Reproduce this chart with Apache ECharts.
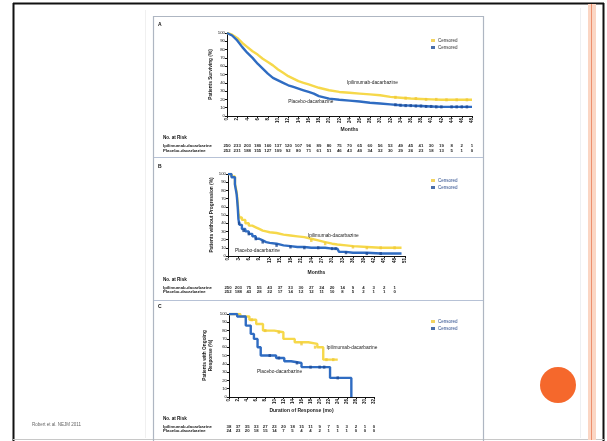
<!DOCTYPE html>
<html>
<head>
<meta charset="utf-8">
<script src="https://cdn.jsdelivr.net/npm/echarts@6/dist/echarts.min.js"></script>
<style>
  html, body { margin: 0; padding: 0; background: #ffffff; }
  #chart { width: 607px; height: 441px; }
</style>
</head>
<body>
<div id="chart"></div>
<script>
// Panel A: overall survival (%)
const osMonths   = [0,1,2,3,4,5,6,7,8,9,10,11,12,13,14,15,16,17,18,20,22,24,26,28,30,32,34,36,38,40,42,44,46,48];
const osIpi      = [100,98,94,88,83,78,74,69,65,61,56,52,48,45,42,40,38,36,34,31,29,28,27,26,25,23,22,21,20.5,20,19.5,19.5,19.5,19.5];
const osPbo      = [100,97,91,83,76,70,63,57,51,46,43,40,37,35,33,31,29,27,24,21,19.5,18.5,17.5,16,15,14,13,12.5,12,11.5,11,11,11,11];
const osIpiCens  = [[33,22.5],[35,21.5],[37,21],[39,20],[41,20],[43,19.5],[45,19.5],[47,19.5]];
const osPboCens  = [[33,13.5],[34,13],[35,12.5],[36,12.5],[37,12],[38,12],[39,11.5],[40,11.5],[41,11],[42,11],[44,11],[45,11],[46,11],[47,11]];
const osTicks    = [0,2,4,6,8,10,12,14,16,18,20,22,24,26,28,30,32,34,36,38,40,42,44,46,48];
const osRiskIpi  = [250,233,203,180,160,137,120,107,96,89,80,75,70,65,60,56,53,49,45,41,30,19,8,2,1];
const osRiskPbo  = [252,231,188,155,127,109,92,80,71,61,51,46,43,40,34,32,30,29,26,23,18,13,5,1,0];

// Panel B: progression-free survival (%)
const pfsMonths  = [0,1,2,2.5,2.8,3,3.3,4,5,6,7,8,9,10,11,12,14,16,18,20,22,24,26,28,30,31.5,32,34,36,40,44,48,50];
const pfsIpi     = [100,97,88,78,65,52,47,44,40,37,35,33,31,30,29,28,26,25,24,23,21,19,17,15,14,13,13,12,11,10,10,10,10];
const pfsPbo     = [100,96,87,75,60,45,38,33,30,27,24,21,19,17,16,15,13,12,11,11,10,10,10,9,9,9,5,4,4,3,3,3,3];
const pfsIpiCens = [[24,19],[28,15],[36,11],[40,10],[44,10],[48,10]];
const pfsPboCens = [[3.2,40],[4.5,31],[6,27],[8,21],[10,17],[14,13],[18,11],[22,10],[26,10],[30,9],[31,9],[34,4],[40,3],[44,3]];
const pfsTicks   = [0,3,6,9,12,15,18,21,24,27,30,33,36,39,42,45,48,51];
const pfsRiskIpi = [250,203,75,55,43,37,33,30,27,24,20,14,9,4,3,2,1,''];
const pfsRiskPbo = [252,188,43,28,22,17,14,12,12,11,10,8,5,2,1,1,0,''];

// Panel C: duration of response (%)
const dorIpiMonths = [0,2.5,4.5,6,7.5,10,12,14.5,17.5,19.5,20.8,24];
const dorIpi       = [100,97,93,88,80,78,70,66,64,60,45,45];
const dorPboMonths = [0,1.8,3.7,4.8,5.5,6.3,7,10.4,12.2,13.7,16,22.3,27];
const dorPbo       = [100,97,86,76,70,60,50,47,43,41,36,23,0];
const dorIpiCens   = [[5,93],[8,80],[11,78],[16,64],[19,60],[21.5,45],[23,45]];
const dorPboCens   = [[9,50],[11,47],[15,41],[18,36],[20,36],[21,36],[24,23]];
const dorTicks     = [0,2,4,6,8,10,12,14,16,18,20,22,24,26,28,30,32];
const dorRiskIpi   = [38,37,35,33,27,23,20,18,15,11,9,7,5,3,2,1,0];
const dorRiskPbo   = [24,23,20,18,15,14,7,5,4,4,2,1,1,1,0,0,0];

const armIpi = 'Ipilimumab-dacarbazine';
const armPbo = 'Placebo-dacarbazine';

const YELLOW = '#f6d84a';
const BLUE = '#2f6cc2';
const BLUE_DARK = '#1d4a94';
const FONT = 'Liberation Sans, Arial, sans-serif';

function pairs(xs, ys) { return xs.map((x, i) => [x, ys[i]]); }

const grids = [
  { left: 227, top: 33, width: 245, height: 83 },
  { left: 228, top: 174, width: 177, height: 82 },
  { left: 229, top: 314, width: 145, height: 83 }
];

function mainX(grid, max, step, name, gap) {
  return {
    type: 'value', gridIndex: grid, min: 0, max: max, interval: step,
    name: name, nameLocation: 'middle', nameGap: gap,
    nameTextStyle: { fontSize: 5, fontWeight: 'bold', color: '#222', fontFamily: FONT },
    axisLine: { lineStyle: { color: '#111', width: 1 } },
    axisTick: { show: true, length: 2, lineStyle: { color: '#111' } },
    axisLabel: { fontSize: 4.5, rotate: 90, margin: 2, color: '#111', fontWeight: 'bold', fontFamily: FONT },
    splitLine: { show: false }
  };
}
function riskX(grid, max, step, ticks, values, offset) {
  return {
    type: 'value', gridIndex: grid, min: 0, max: max, interval: step,
    position: 'bottom', offset: offset,
    axisLine: { show: false }, axisTick: { show: false }, splitLine: { show: false },
    axisLabel: {
      fontSize: 4.3, margin: 0, color: '#222', fontFamily: FONT, fontWeight: 'bold',
      hideOverlap: false, showMinLabel: true, showMaxLabel: true,
      formatter: v => { const i = ticks.indexOf(v); return i >= 0 ? String(values[i]) : ''; }
    }
  };
}
function mainY(grid, name, gap) {
  return {
    type: 'value', gridIndex: grid, min: 0, max: 100, interval: 10,
    name: name, nameLocation: 'middle', nameGap: gap, nameRotate: 90,
    nameTextStyle: { fontSize: 4.8, fontWeight: 'bold', color: '#222', fontFamily: FONT, lineHeight: 6 },
    axisLine: { show: true, lineStyle: { color: '#111', width: 1 } },
    axisTick: { show: true, length: 2, lineStyle: { color: '#111' } },
    axisLabel: { fontSize: 4.3, margin: 2, color: '#111', fontFamily: FONT },
    splitLine: { show: false }
  };
}

function curve(name, xi, yi, data, color, step, label) {
  const s = {
    name: name, type: 'line', xAxisIndex: xi, yAxisIndex: yi, data: data,
    step: step ? 'end' : false, showSymbol: false, symbol: 'none',
    lineStyle: { color: color, width: 2.4 }, z: color === BLUE ? 3 : 2, silent: true
  };
  if (label) {
    s.markPoint = {
      symbol: 'circle', symbolSize: 0, silent: true,
      label: { show: true, position: 'right', distance: 0, formatter: '{b}', fontSize: 4.8, color: '#222', fontFamily: FONT },
      data: [{ name: name, coord: label }]
    };
  }
  return s;
}
function censors(name, xi, yi, data, color) {
  return {
    name: name, type: 'scatter', xAxisIndex: xi, yAxisIndex: yi, data: data,
    symbol: 'rect', symbolSize: [2.5, 3], itemStyle: { color: color }, z: 4, silent: true
  };
}

const censorLegend = (top, names, textColor) => ({
  show: true, orient: 'vertical', left: 426, top: top, itemWidth: 4, itemHeight: 3, itemGap: 2,
  icon: 'rect', data: names, selectedMode: false,
  formatter: () => 'Censored',
  textStyle: { fontSize: 4.5, color: textColor, fontFamily: FONT, padding: [0, 0, 0, -2] }
});

// Slide frame, chart box, panel separators, captions and the orange bullet
const rowLabels = (y0, y1, y2) => [
  { type: 'text', left: 163, top: y0, style: { text: 'No. at Risk', fontSize: 4.6, fontWeight: 'bold', fill: '#111', fontFamily: FONT } },
  { type: 'text', left: 163, top: y1, style: { text: armIpi, fontSize: 4.3, fontWeight: 'bold', fill: '#222', fontFamily: FONT } },
  { type: 'text', left: 163, top: y2, style: { text: armPbo, fontSize: 4.3, fontWeight: 'bold', fill: '#222', fontFamily: FONT } }
];
const graphic = [
  { type: 'line', shape: { x1: 13, y1: 3.5, x2: 604, y2: 3.5 }, style: { stroke: '#111', lineWidth: 2 } },
  { type: 'line', shape: { x1: 13.5, y1: 3, x2: 13.5, y2: 441 }, style: { stroke: '#111', lineWidth: 2 } },
  { type: 'line', shape: { x1: 603.5, y1: 3, x2: 603.5, y2: 441 }, style: { stroke: '#111', lineWidth: 2 } },
  { type: 'line', shape: { x1: 13, y1: 439.5, x2: 604, y2: 439.5 }, style: { stroke: '#c8c8c8', lineWidth: 1 } },
  { type: 'rect', shape: { x: 588, y: 4, width: 8, height: 436 }, style: { fill: '#fbd6c4' } },
  { type: 'line', shape: { x1: 591.5, y1: 4, x2: 591.5, y2: 440 }, style: { stroke: '#ec8f6e', lineWidth: 1 } },
  { type: 'line', shape: { x1: 580.5, y1: 8, x2: 580.5, y2: 438 }, style: { stroke: '#eef0f2', lineWidth: 1 } },
  { type: 'line', shape: { x1: 145.5, y1: 10, x2: 145.5, y2: 438 }, style: { stroke: '#f0f0f0', lineWidth: 1 } },
  { type: 'rect', shape: { x: 153.5, y: 16.5, width: 330, height: 430 }, style: { fill: 'none', stroke: '#aeb6c2', lineWidth: 1.2 } },
  { type: 'line', shape: { x1: 154, y1: 157.5, x2: 483, y2: 157.5 }, style: { stroke: '#b7c2d6', lineWidth: 1.2 } },
  { type: 'line', shape: { x1: 154, y1: 300.5, x2: 483, y2: 300.5 }, style: { stroke: '#b7c2d6', lineWidth: 1.2 } },
  { type: 'text', left: 158, top: 22, style: { text: 'A', fontSize: 5, fontWeight: 'bold', fill: '#111', fontFamily: FONT } },
  { type: 'text', left: 158, top: 164, style: { text: 'B', fontSize: 5, fontWeight: 'bold', fill: '#111', fontFamily: FONT } },
  { type: 'text', left: 158, top: 304, style: { text: 'C', fontSize: 5, fontWeight: 'bold', fill: '#111', fontFamily: FONT } },
  ...rowLabels(135.5, 144, 148.5),
  ...rowLabels(277.5, 285.5, 290),
  ...rowLabels(416.5, 424.5, 429),
  { type: 'text', left: 32, top: 422, style: { text: 'Robert et al. NEJM 2011', fontSize: 4.5, fill: '#666', fontFamily: FONT } },
  { type: 'circle', shape: { cx: 558, cy: 385, r: 18 }, style: { fill: '#f5682c' } }
];

const option = {
  animation: false,
  backgroundColor: '#ffffff',
  textStyle: { fontFamily: FONT },
  grid: grids,
  legend: [
    censorLegend(33, [armIpi + ' (A)', armPbo + ' (A)'], '#333'),
    censorLegend(173, [armIpi + ' (B)', armPbo + ' (B)'], '#2b4c8c'),
    censorLegend(314, [armIpi + ' (C)', armPbo + ' (C)'], '#2b4c8c')
  ],
  xAxis: [
    mainX(0, 48, 2, 'Months', 11),
    riskX(0, 48, 2, osTicks, osRiskIpi, 28),
    riskX(0, 48, 2, osTicks, osRiskPbo, 32.5),
    mainX(1, 51, 3, 'Months', 14),
    riskX(1, 51, 3, pfsTicks, pfsRiskIpi, 29.5),
    riskX(1, 51, 3, pfsTicks, pfsRiskPbo, 34),
    mainX(2, 32, 2, 'Duration of Response (mo)', 10),
    riskX(2, 32, 2, dorTicks, dorRiskIpi, 27.5),
    riskX(2, 32, 2, dorTicks, dorRiskPbo, 32)
  ],
  yAxis: [
    mainY(0, 'Patients Surviving (%)', 12),
    mainY(1, 'Patients without Progression (%)', 12),
    mainY(2, 'Patients with Ongoing\nResponse (%)', 15)
  ],
  series: [
    curve(armIpi, 0, 0, pairs(osMonths, osIpi), YELLOW, false, [23.5, 40]),
    curve(armPbo, 0, 0, pairs(osMonths, osPbo), BLUE, false, [12, 17]),
    censors(armIpi + ' (A)', 0, 0, osIpiCens, '#f0c93a'),
    censors(armPbo + ' (A)', 0, 0, osPboCens, BLUE_DARK),
    curve(armIpi, 3, 1, pairs(pfsMonths, pfsIpi), YELLOW, true, [23, 24.5]),
    curve(armPbo, 3, 1, pairs(pfsMonths, pfsPbo), BLUE, true, [2, 6]),
    censors(armIpi + ' (B)', 3, 1, pfsIpiCens, '#f0c93a'),
    censors(armPbo + ' (B)', 3, 1, pfsPboCens, BLUE_DARK),
    curve(armIpi, 6, 2, pairs(dorIpiMonths, dorIpi), YELLOW, true, [21.5, 60]),
    curve(armPbo, 6, 2, pairs(dorPboMonths, dorPbo), BLUE, true, [6.2, 30]),
    censors(armIpi + ' (C)', 6, 2, dorIpiCens, '#f0c93a'),
    censors(armPbo + ' (C)', 6, 2, dorPboCens, BLUE_DARK)
  ],
  graphic: graphic
};

const chart = echarts.init(document.getElementById('chart'), null, { renderer: 'canvas' });
chart.setOption(option);
</script>
</body>
</html>
